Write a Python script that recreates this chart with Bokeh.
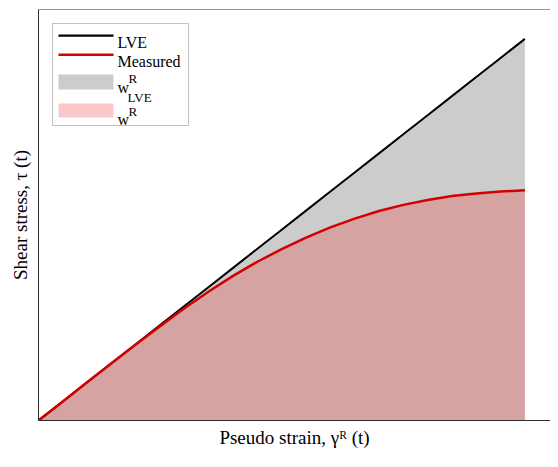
from bokeh.plotting import figure
from bokeh.models import Range1d, Label, BoxAnnotation, Span
from bokeh.embed import file_html
from bokeh.resources import INLINE

# ---- data ----
strain = [0.00, 0.05, 0.10, 0.15, 0.20, 0.25, 0.30, 0.35, 0.40, 0.45, 0.50,
          0.55, 0.60, 0.65, 0.70, 0.75, 0.80, 0.85, 0.90, 0.95, 1.00]
lve = [0.00, 0.05, 0.10, 0.15, 0.20, 0.25, 0.30, 0.35, 0.40, 0.45, 0.50,
       0.55, 0.60, 0.65, 0.70, 0.75, 0.80, 0.85, 0.90, 0.95, 1.00]
measured = [0.000, 0.050, 0.100, 0.150, 0.199, 0.247, 0.294, 0.338, 0.379, 0.416, 0.449,
            0.479, 0.506, 0.529, 0.549, 0.565, 0.578, 0.588, 0.595, 0.600, 0.603]
zeros = [0.0] * len(strain)

FONT = "Liberation Serif"
W, H = 550, 451
LEFT, TOP, BOTTOM = 38, 9, 31
FW = W - LEFT
FH = H - TOP - BOTTOM
X_END = 520.0 / 494.0
Y_END = 420.0 / 390.0
SX = FW / X_END
SY = FH / Y_END

p = figure(width=W, height=H, output_backend="svg", toolbar_location=None,
           x_range=Range1d(0, X_END), y_range=Range1d(0, Y_END),
           min_border_left=LEFT, min_border_right=0, min_border_top=TOP,
           min_border_bottom=BOTTOM)
p.outline_line_color = None
p.background_fill_color = "white"
p.border_fill_color = "white"
p.grid.visible = False
for ax in (p.xaxis, p.yaxis):
    ax.ticker = []
    ax.major_tick_line_color = None
    ax.minor_tick_line_color = None
    ax.major_label_text_font_size = "0px"
    ax.axis_line_color = "#2b2b2b"
    ax.axis_line_width = 1
    ax.axis_label_text_font = FONT
    ax.axis_label_text_font_style = "normal"
    ax.axis_label_text_color = "black"
    ax.axis_label_text_font_size = "19px"
p.xaxis.axis_label = "Pseudo strain, \u03b3\u1d3f (t)"
p.yaxis.axis_label = "Shear stress, \u03c4 (t)"
p.xaxis.axis_label_standoff = 6
p.yaxis.axis_label_standoff = 8
p.add_layout(Span(location=Y_END, dimension="width", line_color="#2b2b2b", line_width=1))

# areas
p.varea(x=strain, y1=measured, y2=lve, fill_color="#cccccc")
p.varea(x=strain, y1=zeros, y2=measured, fill_color="#d6a3a3")
# lines
p.line(strain, lve, line_color="black", line_width=2)
p.line(strain, measured, line_color="#d40000", line_width=2.5)

# helpers: figure pixel -> data coordinates (layout only)
def dx(px):
    return (px - LEFT) / SX
def dy(py):
    return (TOP + FH - py) / SY

# custom legend
p.add_layout(BoxAnnotation(left=dx(52), right=dx(188), top=dy(23), bottom=dy(125),
                           fill_color="white", fill_alpha=1, line_color="#333333", line_width=1))
p.add_layout(BoxAnnotation(left=dx(58), right=dx(113), top=dy(34), bottom=dy(36.2),
                           fill_color="black", fill_alpha=1, line_color=None))
p.add_layout(BoxAnnotation(left=dx(58), right=dx(113), top=dy(53), bottom=dy(55.4),
                           fill_color="#d40000", fill_alpha=1, line_color=None))
p.add_layout(BoxAnnotation(left=dx(58), right=dx(113), top=dy(74), bottom=dy(89),
                           fill_color="#cccccc", fill_alpha=1, line_color=None))
p.add_layout(BoxAnnotation(left=dx(58), right=dx(113), top=dy(103), bottom=dy(117),
                           fill_color="#fac8c8", fill_alpha=1, line_color=None))

def lab(txt, x, y, size):
    p.add_layout(Label(x=x, y=y, text=txt, text_font=FONT, text_font_size=f"{size}px",
                       text_color="black", text_align="left", text_baseline="alphabetic"))

lab("LVE", dx(117), dy(42), 16)
lab("Measured", dx(117), dy(61), 16)
lab("w", dx(117), dy(87), 16)
lab("R", dx(128), dy(78), 13)
lab("LVE", dx(127), dy(97), 13)
lab("w", dx(117), dy(119), 16)
lab("R", dx(128), dy(111), 13)

open("out.html", "w").write(file_html(p, INLINE))
